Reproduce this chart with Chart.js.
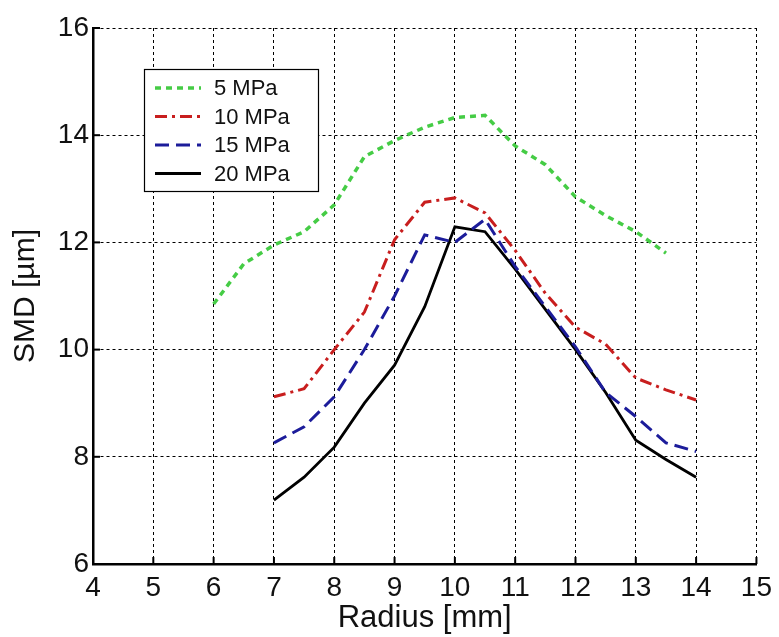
<!DOCTYPE html>
<html>
<head>
<meta charset="utf-8">
<script src="https://cdn.jsdelivr.net/npm/chart.js@4"></script>
<style>
  html, body { margin: 0; padding: 0; background: #fff; }
  #wrap { width: 779px; height: 637px; position: relative; }
</style>
</head>
<body>
<div id="wrap"><canvas id="smdChart" width="779" height="637"></canvas></div>
<script>
// radius positions (mm)
const radius5 = [6, 6.5, 7, 7.5, 8, 8.5, 9, 9.5, 10, 10.5, 11, 11.5, 12, 12.5, 13, 13.5];
const radiusHigh = [7, 7.5, 8, 8.5, 9, 9.5, 10, 10.5, 11, 11.5, 12, 12.5, 13, 13.5, 14];

// SMD values (um)
const smd5 = [10.85, 11.6, 11.95, 12.2, 12.7, 13.6, 13.9, 14.15, 14.33, 14.37, 13.8, 13.45, 12.85, 12.5, 12.2, 11.8];
const smd10 = [9.12, 9.27, 10.0, 10.7, 12.05, 12.75, 12.83, 12.55, 11.85, 11.05, 10.42, 10.1, 9.47, 9.25, 9.06];
const smd15 = [8.26, 8.56, 9.12, 10.0, 11.0, 12.14, 12.0, 12.43, 11.55, 10.8, 10.05, 9.2, 8.75, 8.26, 8.1];
const smd20 = [7.19, 7.62, 8.18, 9.0, 9.71, 10.8, 12.29, 12.2, 11.5, 10.75, 10.0, 9.2, 8.31, 7.95, 7.62];

const seriesLabels = ['5 MPa', '10 MPa', '15 MPa', '20 MPa'];
const xTicks = [4, 5, 6, 7, 8, 9, 10, 11, 12, 13, 14, 15];
const yTicks = [6, 8, 10, 12, 14, 16];

const toPoints = (xs, ys) => xs.map((x, i) => ({ x: x, y: ys[i] }));

const FONT = '"Liberation Sans", Arial, sans-serif';

// inward tick marks like the original plot
const innerTicks = {
  id: 'innerTicks',
  afterDraw(chart) {
    const ctx = chart.ctx;
    const area = chart.chartArea;
    const xs = chart.scales.x, ys = chart.scales.y;
    ctx.save();
    ctx.strokeStyle = '#000';
    ctx.lineWidth = 2;
    ctx.setLineDash([]);
    xTicks.forEach(v => {
      const px = xs.getPixelForValue(v);
      ctx.beginPath();
      ctx.moveTo(px, area.bottom);
      ctx.lineTo(px, area.bottom - 7);
      ctx.stroke();
    });
    yTicks.forEach(v => {
      const py = ys.getPixelForValue(v);
      ctx.beginPath();
      ctx.moveTo(area.left, py);
      ctx.lineTo(area.left + 7, py);
      ctx.stroke();
    });
    ctx.restore();
  }
};

// legend box inside the plot, top left
const boxLegend = {
  id: 'boxLegend',
  afterDatasetsDraw(chart) {
    const ctx = chart.ctx;
    const left = 144, top = 69, w = 174, h = 122;
    ctx.save();
    ctx.fillStyle = '#fff';
    ctx.fillRect(left, top, w, h);
    ctx.strokeStyle = '#000';
    ctx.lineWidth = 1.2;
    ctx.setLineDash([]);
    ctx.strokeRect(left + 0.5, top + 0.5, w, h);
    ctx.font = '22px ' + FONT;
    ctx.textBaseline = 'middle';
    ctx.fillStyle = '#111';
    chart.data.datasets.forEach((ds, i) => {
      const cy = top + 19 + i * 28.5;
      ctx.strokeStyle = ds.borderColor;
      ctx.lineWidth = ds.borderWidth;
      ctx.setLineDash(ds.borderDash || []);
      ctx.beginPath();
      ctx.moveTo(left + 11, cy);
      ctx.lineTo(left + 57, cy);
      ctx.stroke();
      ctx.fillText(ds.label, left + 70, cy + 1);
    });
    ctx.restore();
  }
};

new Chart(document.getElementById('smdChart'), {
  type: 'line',
  data: {
    datasets: [
      { label: seriesLabels[0], data: toPoints(radius5, smd5), borderColor: '#45cc45', borderWidth: 3.5, borderDash: [6, 5] },
      { label: seriesLabels[1], data: toPoints(radiusHigh, smd10), borderColor: '#c81e1e', borderWidth: 3, borderDash: [12, 5, 3, 5] },
      { label: seriesLabels[2], data: toPoints(radiusHigh, smd15), borderColor: '#1c1c9a', borderWidth: 3, borderDash: [14, 7] },
      { label: seriesLabels[3], data: toPoints(radiusHigh, smd20), borderColor: '#000000', borderWidth: 2.8 }
    ]
  },
  options: {
    responsive: false,
    animation: false,
    elements: { point: { radius: 0 }, line: { tension: 0, fill: false } },
    layout: { padding: { top: 28, right: 21, left: 0, bottom: 0 } },
    plugins: { legend: { display: false }, tooltip: { enabled: false } },
    scales: {
      x: {
        type: 'linear',
        min: 4, max: 15,
        afterBuildTicks: s => { s.ticks = xTicks.map(v => ({ value: v })); },
        afterFit: s => { s.height = 73; },
        grid: { color: '#000', lineWidth: 1, drawTicks: false },
        border: { display: true, color: '#000', width: 2.5, dash: [3, 3] },
        ticks: { color: '#111', font: { family: FONT, size: 28 }, padding: 7, maxRotation: 0 },
        title: { display: true, text: 'Radius [mm]', color: '#111', font: { family: FONT, size: 31 }, padding: { top: -6, bottom: 0 } }
      },
      y: {
        min: 6, max: 16,
        afterBuildTicks: s => { s.ticks = yTicks.map(v => ({ value: v })); },
        afterFit: s => { s.width = 93; },
        grid: { color: '#000', lineWidth: 1, drawTicks: false },
        border: { display: true, color: '#000', width: 2.5, dash: [3, 3] },
        ticks: { color: '#111', font: { family: FONT, size: 28 }, padding: 4 },
        title: { display: true, text: 'SMD [\u00b5m]', color: '#111', font: { family: FONT, size: 30 }, padding: { top: 8, bottom: 0 } }
      }
    }
  },
  plugins: [innerTicks, boxLegend]
});
</script>
</body>
</html>
